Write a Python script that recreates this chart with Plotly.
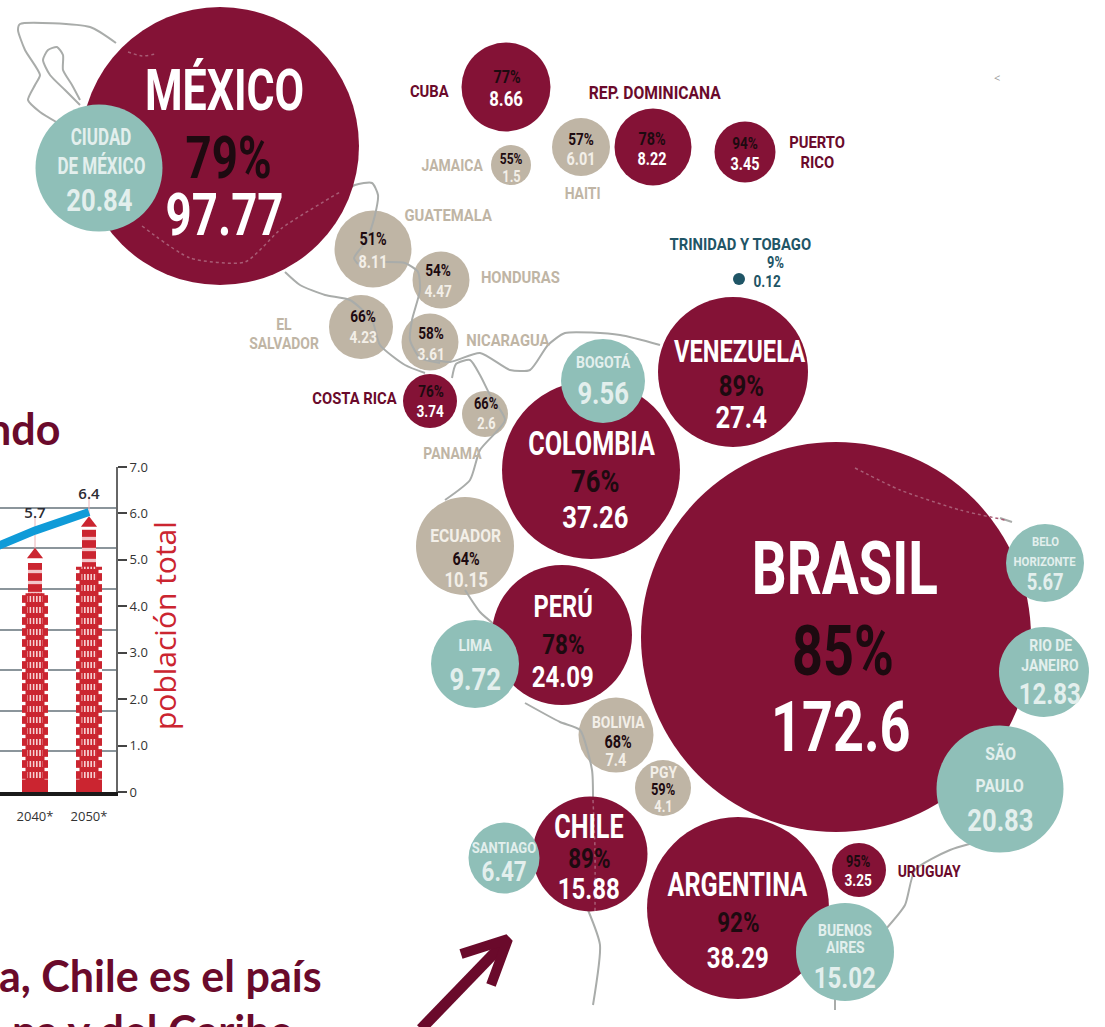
import plotly.graph_objects as go

W, H = 1105, 1060   # the page is cut by the window at 1027, as the reference's last line is
MAROON = "#841236"; TEAL = "#8fbfb8"; TAN = "#bfb5a5"; DTEAL = "#1f5566"
DARK = "#6a0a2b"; RED = "#cb2530"; BLUE = "#0f9bd8"; INK = "#1d0a10"; LINEC = "#a9acaa"
NARROW = "Roboto, sans-serif"

# ---- data: main bubble map (positions) ----
maroon_names = ["México", "Cuba", "Rep. Dominicana", "Puerto Rico", "Costa Rica", "Venezuela", "Colombia", "Brasil", "Perú", "Chile", "Argentina", "Uruguay"]
maroon_pop = [97.77, 8.66, 8.22, 3.45, 3.74, 27.4, 37.26, 172.6, 24.09, 15.88, 38.29, 3.25]
maroon_x = [220, 506, 653, 745, 430, 733, 591, 836, 562, 590, 738, 859]
maroon_y = [146, 87, 147, 152, 401, 372, 470, 637, 635, 854, 908, 870]
maroon_d = [278, 89, 77, 61, 54, 150, 178, 390, 140, 115, 182, 54]

tan_names = ["Jamaica", "Haití", "Guatemala", "Honduras", "El Salvador", "Nicaragua", "Panamá", "Ecuador", "Bolivia", "Paraguay"]
tan_pop = [1.5, 6.01, 8.11, 4.47, 4.23, 3.61, 2.6, 10.15, 7.4, 4.1]
tan_x = [511, 581, 373, 441, 361, 430, 485, 465, 616, 663]
tan_y = [165, 147, 249, 280, 327, 342, 414, 546, 735, 788]
tan_d = [40, 58, 77, 57, 64, 57, 46, 98, 75, 56]

teal_names = ["Ciudad de México", "Bogotá", "Belo Horizonte", "Rio de Janeiro", "São Paulo", "Lima", "Santiago", "Buenos Aires"]
teal_pop = [20.84, 9.56, 5.67, 12.83, 20.83, 9.72, 6.47, 15.02]
teal_x = [99, 603, 1045, 1044, 1000, 475, 504, 845]
teal_y = [168, 381, 563, 672, 789, 664, 858, 952]
teal_d = [127, 84, 78, 90, 127, 88, 71, 98]

trinidad_x = [739]
trinidad_y = [279]
trinidad_d = [12]

# ---- data: inset chart ----
years = [2030, 2040, 2050]
urban_line = [5.15, 5.63, 6.03]
bar_years = [2040, 2050]
tower_peak = [5.25, 5.93]
tower_mid = [4.93, 5.65]
tower_wide = [4.28, 4.85]
tower_base = [0.27, 0.27]
line_labels = ["5.7", "6.4"]
line_label_top = [5.95, 6.38]
right_ticks = [0, 1, 2, 3, 4, 5, 6, 7]
right_ticktext = ["0", "1.0", "2.0", "3.0", "4.0", "5.0", "6.0", "7.0"]
left_grid = [1, 2, 3, 4, 5, 6, 7, 8]

# ---- data: texts (x, y, text, size, colour) ----
W1 = "#ffffff"; C1 = "#e3efed"; T1 = "#f3efe8"
labels = [
 (224, 90, "MÉXICO", 58, W1), (228, 157, "79%", 60, INK), (224, 214, "97.77", 60, W1),
 (101, 137, "CIUDAD", 23, C1), (101, 166, "DE MÉXICO", 23, C1), (99, 200, "20.84", 32, C1),
 (429, 91, "CUBA", 17, DARK), (507, 76, "77%", 18, INK), (506, 99, "8.66", 21, W1),
 (655, 92, "REP. DOMINICANA", 18, DARK),
 (581, 139, "57%", 17, INK), (581, 158, "6.01", 18, T1), (582, 193, "HAITI", 16, TAN),
 (652, 138, "78%", 18, INK), (652, 158, "8.22", 18, W1),
 (745, 143, "94%", 17, INK), (745, 163, "3.45", 18, W1), (817, 142, "PUERTO", 17, DARK), (817, 162, "RICO", 17, DARK),
 (452, 165, "JAMAICA", 16, TAN), (511, 159, "55%", 15, INK), (511, 176, "1.5", 16, T1),
 (448, 215, "GUATEMALA", 17, TAN), (373, 238, "51%", 18, INK), (373, 261, "8.11", 18, T1),
 (438, 270, "54%", 17, INK), (438, 291, "4.47", 17, T1), (520, 277, "HONDURAS", 17, TAN),
 (431, 333, "58%", 17, INK), (431, 354, "3.61", 17, T1), (508, 340, "NICARAGUA", 17, TAN),
 (284, 324, "EL", 16, TAN), (284, 343, "SALVADOR", 16, TAN), (363, 316, "66%", 17, INK), (363, 337, "4.23", 17, T1),
 (355, 398, "COSTA RICA", 17, DARK), (431, 391, "76%", 17, INK), (430, 411, "3.74", 17, W1),
 (486, 403, "66%", 16, INK), (486, 423, "2.6", 16, T1), (452, 453, "PANAMA", 16, TAN),
 (740, 244, "TRINIDAD Y TOBAGO", 17, DTEAL), (775, 262, "9%", 16, DTEAL), (767, 281, "0.12", 17, DTEAL),
 (740, 351, "VENEZUELA", 32, W1), (741, 385, "89%", 30, INK), (741, 417, "27.4", 32, W1),
 (603, 362, "BOGOTÁ", 16, C1), (603, 393, "9.56", 32, C1),
 (591, 443, "COLOMBIA", 34, W1), (595, 481, "76%", 32, INK), (595, 517, "37.26", 32, W1),
 (845, 568, "BRASIL", 74, W1), (843, 650, "85%", 71, INK), (841, 726, "172.6", 71, W1),
 (1045, 541, "BELO", 13, C1), (1045, 561, "HORIZONTE", 13, C1), (1045, 582, "5.67", 23, C1),
 (1050, 645, "RIO DE", 16, C1), (1050, 665, "JANEIRO", 16, C1), (1050, 693, "12.83", 30, C1),
 (1000, 753, "SÃO", 18, C1), (1000, 785, "PAULO", 18, C1), (1000, 820, "20.83", 32, C1),
 (466, 535, "ECUADOR", 18, T1), (466, 558, "64%", 18, INK), (466, 580, "10.15", 21, T1),
 (563, 606, "PERÚ", 32, W1), (563, 644, "78%", 28, INK), (563, 676, "24.09", 30, W1),
 (475, 645, "LIMA", 16, C1), (475, 679, "9.72", 32, C1),
 (618, 722, "BOLIVIA", 16, T1), (618, 741, "68%", 18, INK), (616, 759, "7.4", 18, T1),
 (663, 772, "PGY", 16, T1), (663, 789, "59%", 16, INK), (663, 806, "4.1", 16, T1),
 (589, 826, "CHILE", 34, W1), (589, 858, "89%", 28, INK), (589, 888, "15.88", 30, W1),
 (504, 848, "SANTIAGO", 15, C1), (504, 871, "6.47", 28, C1),
 (737, 884, "ARGENTINA", 34, W1), (738, 922, "92%", 28, INK), (738, 957, "38.29", 30, W1),
 (845, 930, "BUENOS", 16, C1), (845, 947, "AIRES", 16, C1), (845, 977, "15.02", 30, C1),
 (858, 861, "95%", 16, INK), (858, 880, "3.25", 17, W1), (929, 871, "URUGUAY", 16, DARK),
]

# ---- data: border sketch lines ----
borders = [
 [(116, 43), (90, 27), (20, 24), (18, 30), (25, 50), (40, 75), (35, 85), (28, 100), (40, 112), (58, 123)],
 [(80, 105), (65, 90), (50, 75), (43, 60), (48, 50), (57, 47), (63, 55), (63, 70), (72, 85), (80, 100)],
 [(340, 195), (355, 185), (372, 183), (378, 195), (375, 215), (367, 240), (354, 258), (358, 264)],
 [(385, 262), (405, 263), (418, 272), (420, 290), (412, 320), (410, 340), (420, 358), (440, 363)],
 [(285, 272), (300, 285), (325, 295), (350, 300), (372, 320), (380, 345), (405, 365), (425, 373)],
 [(425, 358), (450, 362), (480, 353), (510, 370), (530, 370), (548, 345), (565, 333), (620, 335), (660, 345)],
 [(452, 378), (456, 364), (470, 360), (480, 375), (490, 395), (505, 420), (480, 450), (470, 480), (445, 500)],
 [(465, 590), (480, 612), (495, 625)],
 [(525, 703), (560, 722), (580, 730), (592, 770), (593, 800)],
 [(588, 910), (600, 945), (593, 1005)],
 [(1005, 835), (950, 850), (915, 870), (905, 905), (885, 930)],
 [(835, 998), (835, 1010)],
 [(1000, 518), (1012, 522)],
]
faint_borders = [
 [(128, 52), (142, 56), (156, 54)],
 [(142, 226), (190, 258), (245, 262), (282, 228), (340, 192)],
 [(855, 468), (900, 490), (960, 510), (1005, 520)],
 [(593, 800), (595, 850), (595, 912)],
]
arrow_shaft = [(421, 1029), (506, 941)]
arrow_head = [(461, 954), (508, 939), (491, 985)]

fig = go.Figure()

def path_trace(pts, color, width, dash="solid"):
    fig.add_trace(go.Scatter(x=[p[0] for p in pts], y=[p[1] for p in pts], mode="lines",
                             line=dict(color=color, width=width, shape="spline", smoothing=0.6, dash=dash),
                             hoverinfo="skip", showlegend=False))

def bubble_trace(name, xs, ys, ds, color, names):
    fig.add_trace(go.Scatter(x=xs, y=ys, mode="markers", name=name, text=names, showlegend=False,
                             marker=dict(size=ds, sizemode="diameter", color=color, opacity=1, line=dict(width=0))))

bubble_trace("otros", tan_x, tan_y, tan_d, TAN, tan_names)
for b in borders:
    path_trace(b, LINEC, 2)
bubble_trace("altos", maroon_x, maroon_y, maroon_d, MAROON, maroon_names)
for b in faint_borders:
    path_trace(b, "#a85c75", 1.5, "dot")
bubble_trace("ciudades", teal_x, teal_y, teal_d, TEAL, teal_names)
bubble_trace("trinidad", trinidad_x, trinidad_y, trinidad_d, DTEAL, ["Trinidad y Tobago"])

fig.add_trace(go.Scatter(x=[p[0] for p in arrow_shaft], y=[p[1] for p in arrow_shaft], mode="lines",
                         line=dict(color=DARK, width=11), hoverinfo="skip", showlegend=False))
fig.add_trace(go.Scatter(x=[p[0] for p in arrow_head], y=[p[1] for p in arrow_head], mode="lines",
                         line=dict(color=DARK, width=10), hoverinfo="skip", showlegend=False))

# ---- inset chart ----
PX = 5.4
fig.add_trace(go.Scatter(x=bar_years, y=[1, 1], xaxis="x2", yaxis="y3", mode="markers",
                         marker=dict(opacity=0), hoverinfo="skip", showlegend=False))
for v, w, m in [
    (tower_wide, 26 / PX, dict(color=RED, pattern=dict(shape="-", fgcolor="#ffffff", bgcolor=RED, size=11, solidity=0.3))),
    (tower_mid, 14 / PX, dict(color=RED, pattern=dict(shape="-", fgcolor="#f3c6ca", bgcolor=RED, size=11, solidity=0.3))),
    (tower_wide, 15 / PX, dict(color=RED, pattern=dict(shape="|", fgcolor="#fbe3e4", bgcolor=RED, size=3.2, solidity=0.45))),
    (tower_wide, 19 / PX, dict(color="rgba(0,0,0,0)", pattern=dict(shape="-", fgcolor=RED, bgcolor="rgba(0,0,0,0)", size=11, solidity=0.45))),
    (tower_base, 26 / PX, dict(color=RED)),
]:
    fig.add_trace(go.Bar(x=bar_years, y=v, width=w, marker=m, marker_line_width=0,
                         xaxis="x2", yaxis="y2", showlegend=False, hoverinfo="skip"))
fig.add_trace(go.Scatter(x=bar_years, y=[a - 0.14 for a in tower_peak], xaxis="x2", yaxis="y2", mode="markers",
                         marker=dict(symbol="triangle-up", size=14, color=RED), hoverinfo="skip", showlegend=False))
for xv, a, b in zip(bar_years, tower_peak, line_label_top):
    fig.add_trace(go.Scatter(x=[xv, xv], y=[a, b], xaxis="x2", yaxis="y2", mode="lines",
                             line=dict(color="#eab4b8", width=1), hoverinfo="skip", showlegend=False))
fig.add_trace(go.Scatter(x=years, y=urban_line, xaxis="x2", yaxis="y2", mode="lines",
                         line=dict(color=BLUE, width=8), hoverinfo="skip", showlegend=False))
fig.add_trace(go.Scatter(x=bar_years, y=[v + 0.36 for v in urban_line[1:]], xaxis="x2", yaxis="y2", mode="text",
                         text=line_labels, textfont=dict(family="Open Sans", size=15, color="#2b2b33", weight=600),
                         cliponaxis=False, hoverinfo="skip", showlegend=False))

ann = [dict(x=x, y=y, text=t, showarrow=False, xanchor="center", yanchor="middle",
            font=dict(family=NARROW, size=s, color=c, weight=700), xref="x", yref="y")
       for (x, y, t, s, c) in labels]
ann += [
    dict(x=997, y=77, text="&lt;", showarrow=False, font=dict(size=11, color="#9a9a9a", family="Open Sans"), xref="x", yref="y"),
    dict(x=62, y=428, text="<b>ndo</b>", xanchor="right", yanchor="middle", showarrow=False,
         font=dict(family="Lato", size=43, color=DARK), xref="x", yref="y"),
    dict(x=324, y=975, text="<b>a, Chile es el país</b>", xanchor="right", yanchor="middle", showarrow=False,
         font=dict(family="Lato", size=43, color=DARK), xref="x", yref="y"),
    dict(x=295, y=1030, text="<b>na y del Caribe</b>", xanchor="right", yanchor="middle", showarrow=False,
         font=dict(family="Lato", size=43, color=DARK), xref="x", yref="y"),
    dict(x=164, y=626, text="población total", textangle=-90, showarrow=False,
         font=dict(family="Open Sans", size=30, color=RED), xref="x", yref="y"),
]

fig.update_layout(
    template="none",
    width=W, height=H, margin=dict(l=0, r=0, t=0, b=0, pad=0), paper_bgcolor="white", plot_bgcolor="rgba(0,0,0,0)",
    barmode="overlay", showlegend=False, annotations=ann,
    xaxis=dict(range=[0, W], visible=False, domain=[0, 1], fixedrange=True, automargin=False),
    yaxis=dict(range=[H, 0], visible=False, domain=[0, 1], fixedrange=True, automargin=False),
    xaxis2=dict(domain=[0, 116 / W], range=[2040 - 35 / PX, 2040 + 81 / PX], anchor="y2", tickmode="array", automargin=False,
                tickvals=bar_years, ticktext=["2040*", "2050*"], ticks="outside", ticklen=9, tickcolor="rgba(0,0,0,0)",
                tickfont=dict(family="Open Sans", size=13, color="#333333"), showgrid=False, zeroline=False,
                showline=True, linecolor="#1a1a1a", linewidth=4, fixedrange=True),
    yaxis2=dict(domain=[(H - 792) / H, (H - 467) / H], range=[0, 7], anchor="x2", side="right", tickmode="array", automargin=False,
                tickvals=right_ticks, ticktext=right_ticktext, ticks="outside", ticklen=9, tickcolor="#444444", tickwidth=2,
                tickfont=dict(family="Open Sans", size=13, color="#333333"), showgrid=False, zeroline=False,
                showline=True, linecolor="#666666", linewidth=2, fixedrange=True),
    yaxis3=dict(domain=[(H - 792) / H, (H - 467) / H], range=[0, 8], anchor="x2", overlaying="y2", side="left", automargin=False,
                tickmode="array", tickvals=left_grid, showticklabels=False, ticks="", showgrid=True,
                gridcolor="#8b959b", gridwidth=1.5, zeroline=False, showline=False, fixedrange=True),
)

POST = """
document.body.style.margin='0';document.documentElement.style.overflow='hidden';
function narrow(){
  document.querySelectorAll('.annotation-text').forEach(function(t){
    var u=t.getAttribute('data-unformatted')||t.textContent;
    if(u.indexOf('<b>')>=0||u==='población total'||u==='&lt;'||u==='<')return;
    if(t.getAttribute('data-n'))return;
    var s=parseFloat(t.style.fontSize)||20;
    var d=/[0-9]/.test(u);
    var k=d?(s>=50?0.76:0.8):(s<=18?0.87:0.74);
    var l=t.getComputedTextLength();
    t.setAttribute('lengthAdjust','spacingAndGlyphs');
    t.setAttribute('textLength',(l*k).toFixed(1));
    t.setAttribute('data-n','1');
  });
}
narrow();setTimeout(narrow,50);setTimeout(narrow,300);
"""
fig.write_html("out.html", config={"displayModeBar": False}, post_script=POST)
